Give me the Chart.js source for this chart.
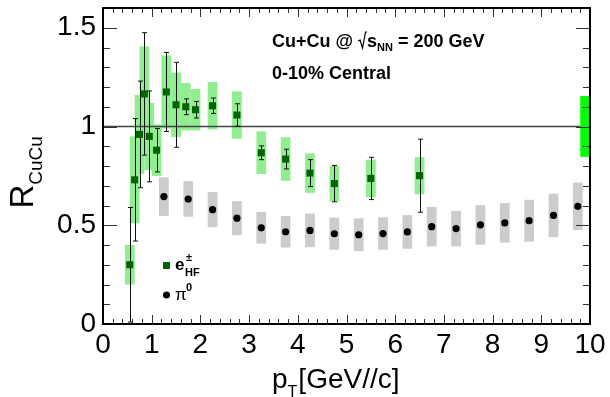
<!DOCTYPE html>
<html>
<head>
<meta charset="utf-8">
<script src="https://cdn.jsdelivr.net/npm/chart.js@4.4.1/dist/chart.umd.min.js"></script>
<style>
  html, body { margin: 0; padding: 0; background: #fff; }
  #contenedor { width: 610px; height: 397px; }
</style>
</head>
<body>
<div id="contenedor"><canvas id="graficoRaa"></canvas></div>
<script>
// Electrones de sabor pesado (e± HF): pT, RAA, error estadístico y sistemático
const ePt   = [0.55, 0.65, 0.75, 0.85, 0.95, 1.1, 1.3, 1.5, 1.7, 1.9, 2.25, 2.75, 3.25, 3.75, 4.25, 4.75, 5.5, 6.5];
const eRaa  = [0.30, 0.73, 0.96, 1.165, 0.95, 0.88, 1.175, 1.11, 1.10, 1.085, 1.105, 1.058, 0.867, 0.835, 0.764, 0.711, 0.737, 0.751];
const eStat = [0.29, 0.31, 0.27, 0.31, 0.23, 0.11, 0.20, 0.215, 0.04, 0.042, 0.039, 0.057, 0.035, 0.05, 0.068, 0.092, 0.107, 0.185];
const eSys  = [0.10, 0.22, 0.20, 0.24, 0.17, 0.13, 0.185, 0.163, 0.12, 0.105, 0.12, 0.12, 0.108, 0.11, 0.10, 0.09, 0.095, 0.094];

// Piones neutros (π0): pT, RAA y error sistemático
const piPt  = [1.25, 1.75, 2.25, 2.75, 3.25, 3.75, 4.25, 4.75, 5.25, 5.75, 6.25, 6.75, 7.25, 7.75, 8.25, 8.75, 9.25, 9.75];
const piRaa = [0.645, 0.633, 0.579, 0.536, 0.487, 0.467, 0.474, 0.457, 0.452, 0.458, 0.466, 0.493, 0.483, 0.502, 0.512, 0.523, 0.55, 0.596];
const piSys = [0.098, 0.09, 0.089, 0.086, 0.08, 0.08, 0.085, 0.081, 0.083, 0.082, 0.085, 0.10, 0.09, 0.10, 0.10, 0.106, 0.11, 0.12];

// Incertidumbre de normalización alrededor de 1
const normPt = [9.9];
const normErr = [0.154];

// Etiquetas de los ejes
const xTicks = [0, 1, 2, 3, 4, 5, 6, 7, 8, 9, 10];
const yTicks = [0, 0.5, 1, 1.5];

const FUENTE = '"Liberation Sans", Arial, sans-serif';
const medioAncho = 0.1;   // media anchura de las cajas en GeV/c

// Caja de error sistemático centrada en (pt, valor)
function dibujarCaja(ctx, x, y, pt, valor, err, color) {
    const x0 = x.getPixelForValue(pt - medioAncho);
    const x1 = x.getPixelForValue(pt + medioAncho);
    const y0 = y.getPixelForValue(valor + err);
    const y1 = y.getPixelForValue(valor - err);
    ctx.fillStyle = color;
    ctx.fillRect(x0, y0, x1 - x0, y1 - y0);
}

// Barra de error vertical con pequeños topes
function dibujarBarra(ctx, x, y, pt, valor, err) {
    const px = Math.round(x.getPixelForValue(pt)) + 0.5;
    const yArriba = y.getPixelForValue(valor + err);
    const yAbajo = y.getPixelForValue(valor - err);
    ctx.beginPath();
    ctx.moveTo(px, yArriba);
    ctx.lineTo(px, yAbajo);
    ctx.moveTo(px - 2.5, yArriba);
    ctx.lineTo(px + 2.5, yArriba);
    ctx.moveTo(px - 2.5, yAbajo);
    ctx.lineTo(px + 2.5, yAbajo);
    ctx.stroke();
}

// Marcas de los ejes hacia dentro, estilo ROOT, en los cuatro lados
function dibujarMarcas(ctx, area, x, y) {
    ctx.strokeStyle = '#333';
    ctx.lineWidth = 1;
    ctx.beginPath();
    for (let k = 0; k <= 50; k++) {
        const px = Math.round(x.getPixelForValue(k * 0.2)) + 0.5;
        const largo = k % 5 === 0 ? 9 : 5;
        ctx.moveTo(px, area.bottom);
        ctx.lineTo(px, area.bottom - largo);
        ctx.moveTo(px, area.top);
        ctx.lineTo(px, area.top + largo);
    }
    for (let k = 0; k <= 16; k++) {
        const py = Math.round(y.getPixelForValue(k * 0.1)) + 0.5;
        const largo = k % 5 === 0 ? 14 : 7;
        ctx.moveTo(area.left, py);
        ctx.lineTo(area.left + largo, py);
        ctx.moveTo(area.right, py);
        ctx.lineTo(area.right - largo, py);
    }
    ctx.stroke();
}

const dibujoFisica = {
    id: 'dibujoFisica',
    beforeDatasetsDraw(chart) {
        const { ctx, scales: { x, y } } = chart;
        ctx.save();

        // cajas sistemáticas
        piPt.forEach((pt, i) => dibujarCaja(ctx, x, y, pt, piRaa[i], piSys[i], '#cccccc'));
        ePt.forEach((pt, i) => dibujarCaja(ctx, x, y, pt, eRaa[i], eSys[i], '#90ee90'));

        // línea de referencia en RAA = 1
        const y1 = y.getPixelForValue(1);
        ctx.strokeStyle = '#444';
        ctx.lineWidth = 1.5;
        ctx.beginPath();
        ctx.moveTo(x.left, y1);
        ctx.lineTo(x.right, y1);
        ctx.stroke();

        // caja de normalización
        normPt.forEach((pt, i) => dibujarCaja(ctx, x, y, pt, 1, normErr[i], '#00ff00'));

        // barras de error estadístico
        ctx.strokeStyle = '#111';
        ctx.lineWidth = 1;
        ePt.forEach((pt, i) => dibujarBarra(ctx, x, y, pt, eRaa[i], eStat[i]));
        ctx.restore();
    },
    afterDraw(chart) {
        const { ctx, chartArea: area, scales: { x, y } } = chart;
        ctx.save();

        dibujarMarcas(ctx, area, x, y);

        // marco
        ctx.strokeStyle = '#000';
        ctx.lineWidth = 2;
        ctx.strokeRect(area.left, area.top, area.right - area.left, area.bottom - area.top);

        ctx.fillStyle = '#000';
        ctx.textBaseline = 'alphabetic';
        ctx.textAlign = 'left';

        // título eje X: p_T[GeV//c]
        ctx.font = '28px ' + FUENTE;
        let cx = 272;
        ctx.fillText('p', cx, 388);
        cx += ctx.measureText('p').width;
        ctx.font = '16px ' + FUENTE;
        ctx.fillText('T', cx, 397);
        cx += ctx.measureText('T').width + 1;
        ctx.font = '28px ' + FUENTE;
        ctx.fillText('[GeV//c]', cx, 388);

        // título eje Y: R_CuCu (girado)
        ctx.save();
        ctx.translate(33, 208.5);
        ctx.rotate(-Math.PI / 2);
        ctx.font = '33px ' + FUENTE;
        ctx.fillText('R', 0, 0);
        const anchoR = ctx.measureText('R').width;
        ctx.font = '19px ' + FUENTE;
        ctx.fillText('CuCu', anchoR, 9);
        ctx.restore();

        // texto del sistema: Cu+Cu @ √s_NN = 200 GeV
        ctx.font = 'bold 18px ' + FUENTE;
        cx = 272;
        const base = 47;
        ctx.fillText('Cu+Cu @ ', cx, base);
        cx += ctx.measureText('Cu+Cu @ ').width;
        ctx.strokeStyle = '#000';
        ctx.lineWidth = 1.2;
        ctx.beginPath();
        ctx.moveTo(cx, base - 6);
        ctx.lineTo(cx + 2, base - 7);
        ctx.lineTo(cx + 4.5, base + 1);
        ctx.lineTo(cx + 7.5, base - 15);
        ctx.lineTo(cx + 9, base - 15);
        ctx.stroke();
        cx += 9;
        ctx.fillText('s', cx, base);
        cx += ctx.measureText('s').width;
        ctx.font = 'bold 11px ' + FUENTE;
        ctx.fillText('NN', cx, base + 4);
        cx += ctx.measureText('NN').width;
        ctx.font = 'bold 18px ' + FUENTE;
        ctx.fillText(' = 200 GeV', cx, base);
        ctx.fillText('0-10% Central', 272, 79);

        // leyenda
        ctx.fillStyle = '#006400';
        ctx.fillRect(163, 262, 7, 7);
        ctx.fillStyle = '#000';
        ctx.beginPath();
        ctx.arc(166.5, 295, 3.5, 0, Math.PI * 2);
        ctx.fill();
        ctx.font = 'bold 17px ' + FUENTE;
        ctx.fillText('e', 175, 270);
        ctx.font = 'bold 11px ' + FUENTE;
        ctx.fillText('\u00b1', 186, 261);
        ctx.fillText('HF', 185, 276);
        ctx.font = '17px ' + FUENTE;
        ctx.fillText('\u03c0', 175, 300);
        ctx.font = 'bold 11px ' + FUENTE;
        ctx.fillText('0', 186, 291);

        ctx.restore();
    }
};

// Quita el relleno que Chart.js reserva para las etiquetas extremas
function fijarEje(s, tam) {
    if (s.isHorizontal()) {
        s.height = tam;
        s.paddingLeft = 0;
        s.paddingRight = 0;
    } else {
        s.width = tam;
        s.paddingTop = 0;
        s.paddingBottom = 0;
    }
}

const ctx = document.getElementById('graficoRaa').getContext('2d');
const grafico = new Chart(ctx, {
    type: 'scatter',
    data: {
        datasets: [
            {
                label: 'e± HF',
                data: ePt.map((pt, i) => ({ x: pt, y: eRaa[i] })),
                pointStyle: 'rect',
                pointRadius: 5,
                backgroundColor: '#006400',
                borderWidth: 0
            },
            {
                label: 'π0',
                data: piPt.map((pt, i) => ({ x: pt, y: piRaa[i] })),
                pointStyle: 'circle',
                pointRadius: 3.6,
                backgroundColor: '#000',
                borderWidth: 0
            }
        ]
    },
    options: {
        responsive: true,
        maintainAspectRatio: false,
        devicePixelRatio: 1,
        animation: false,
        layout: { padding: { left: 0, right: 20, top: 8, bottom: 0 } },
        plugins: {
            legend: { display: false },
            tooltip: { enabled: false }
        },
        scales: {
            x: {
                type: 'linear',
                min: 0,
                max: 10,
                afterBuildTicks: (s) => { s.ticks = xTicks.map(v => ({ value: v })); },
                afterFit: (s) => fijarEje(s, 73),
                grid: { display: false, drawTicks: false },
                border: { display: false },
                ticks: {
                    font: { family: FUENTE, size: 28 },
                    color: '#000',
                    padding: 4,
                    maxRotation: 0,
                    autoSkip: false
                }
            },
            y: {
                type: 'linear',
                min: 0,
                max: 1.6,
                afterBuildTicks: (s) => { s.ticks = yTicks.map(v => ({ value: v })); },
                afterFit: (s) => fijarEje(s, 103),
                grid: { display: false, drawTicks: false },
                border: { display: false },
                ticks: {
                    font: { family: FUENTE, size: 28 },
                    color: '#000',
                    padding: 7,
                    autoSkip: false,
                    callback: (v) => String(v)
                }
            }
        }
    },
    plugins: [dibujoFisica]
});
</script>
</body>
</html>
